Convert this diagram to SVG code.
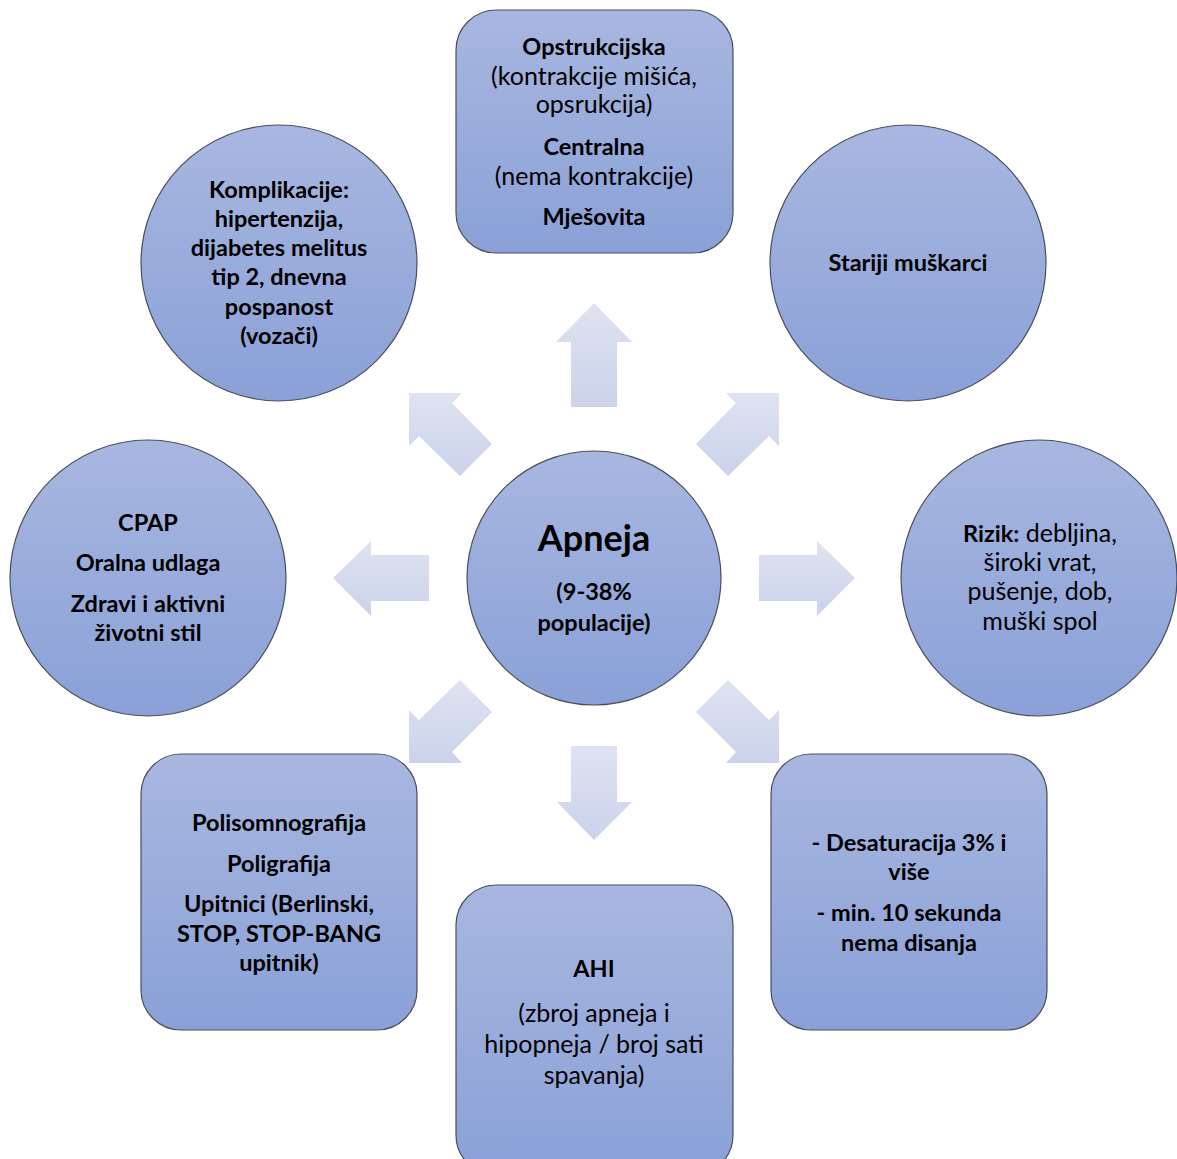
<svg xmlns="http://www.w3.org/2000/svg" width="1177" height="1159" viewBox="0 0 1177 1159">
<defs>
<linearGradient id="ng" x1="0" y1="0" x2="0" y2="1">
<stop offset="0" stop-color="#a8b7e0"/>
<stop offset="1" stop-color="#8aa0d7"/>
</linearGradient>
<linearGradient id="ag" x1="0" y1="0" x2="0" y2="1">
<stop offset="0" stop-color="#dfe3f1"/>
<stop offset="1" stop-color="#cbd2ea"/>
</linearGradient>
<style>
.n{fill:url(#ng);stroke:#4a4f5c;stroke-width:1.2}
.a{fill:url(#ag)}
text{font-family:Lato,"Liberation Sans",sans-serif;font-size:25px;fill:#000;text-anchor:middle}
.b{font-weight:bold;font-size:23.5px}
.big{font-size:36px;font-weight:bold}
</style>
</defs>
<rect width="1177" height="1159" fill="#fff"/>
<g id="connectors">
<polygon class="a" points="594,303 632,342 617,342 617,407 571,407 571,342 556,342"/>
<polygon class="a" points="594,840 632,802 617,802 617,746 571,746 571,802 557,802"/>
<polygon class="a" points="333,578 371,541 371,555 429,555 429,601 371,601 371,616"/>
<polygon class="a" points="855,578 817,541 817,555 759,555 759,601 817,601 817,616"/>
<polygon class="a" points="779,393 779,446 769,436 728,476 696,444 736,403 726,393"/>
<polygon class="a" points="409,393 409,446 419,436 460,476 492,444 452,403 462,393"/>
<polygon class="a" points="409,763 409,710 419,720 460,680 492,712 452,752 462,763"/>
<polygon class="a" points="779,763 779,710 769,720 728,680 696,712 736,752 726,763"/>
</g>
<g id="center">
<circle class="n" cx="594" cy="578" r="127"/>
<text class="big" x="594" y="551">Apneja</text>
<text class="b" x="594" y="600">(9-38%</text>
<text class="b" x="594" y="631">populacije)</text>
</g>
<g id="top">
<rect class="n" x="456" y="10" width="277" height="243" rx="40"/>
<text class="b" x="594" y="55">Opstrukcijska</text>
<text x="594" y="85">(kontrakcije mišića,</text>
<text x="594" y="113">opsrukcija)</text>
<text class="b" x="594" y="155">Centralna</text>
<text x="594" y="185">(nema kontrakcije)</text>
<text class="b" x="594" y="225">Mješovita</text>
</g>
<g id="top-right">
<circle class="n" cx="908" cy="263" r="138"/>
<text class="b" x="908" y="271">Stariji muškarci</text>
</g>
<g id="right">
<circle class="n" cx="1039" cy="578" r="138"/>
<text x="1040" y="542"><tspan class="b">Rizik:</tspan> debljina,</text>
<text x="1040" y="571">široki vrat,</text>
<text x="1040" y="600">pušenje, dob,</text>
<text x="1040" y="630">muški spol</text>
</g>
<g id="bottom-right">
<rect class="n" x="771" y="754" width="276" height="276" rx="40"/>
<text class="b" x="909" y="851">- Desaturacija 3% i</text>
<text class="b" x="909" y="880">više</text>
<text class="b" x="909" y="921">- min. 10 sekunda</text>
<text class="b" x="909" y="951">nema disanja</text>
</g>
<g id="bottom">
<rect class="n" x="456" y="885" width="277" height="290" rx="40"/>
<text class="b" x="594" y="977">AHI</text>
<text x="594" y="1022">(zbroj apneja i</text>
<text x="594" y="1053">hipopneja / broj sati</text>
<text x="594" y="1084">spavanja)</text>
</g>
<g id="bottom-left">
<rect class="n" x="141" y="754" width="276" height="276" rx="40"/>
<text class="b" x="279" y="831">Polisomnografija</text>
<text class="b" x="279" y="872">Poligrafija</text>
<text class="b" x="279" y="912">Upitnici (Berlinski,</text>
<text class="b" x="279" y="942">STOP, STOP-BANG</text>
<text class="b" x="279" y="971">upitnik)</text>
</g>
<g id="left">
<circle class="n" cx="148" cy="578" r="138"/>
<text class="b" x="148" y="531">CPAP</text>
<text class="b" x="148" y="571">Oralna udlaga</text>
<text class="b" x="148" y="612">Zdravi i aktivni</text>
<text class="b" x="148" y="641">životni stil</text>
</g>
<g id="top-left">
<circle class="n" cx="279" cy="263" r="138"/>
<text class="b" x="279" y="198">Komplikacije:</text>
<text class="b" x="279" y="227">hipertenzija,</text>
<text class="b" x="279" y="256">dijabetes melitus</text>
<text class="b" x="279" y="285">tip 2, dnevna</text>
<text class="b" x="279" y="315">pospanost</text>
<text class="b" x="279" y="344">(vozači)</text>
</g>
</svg>
